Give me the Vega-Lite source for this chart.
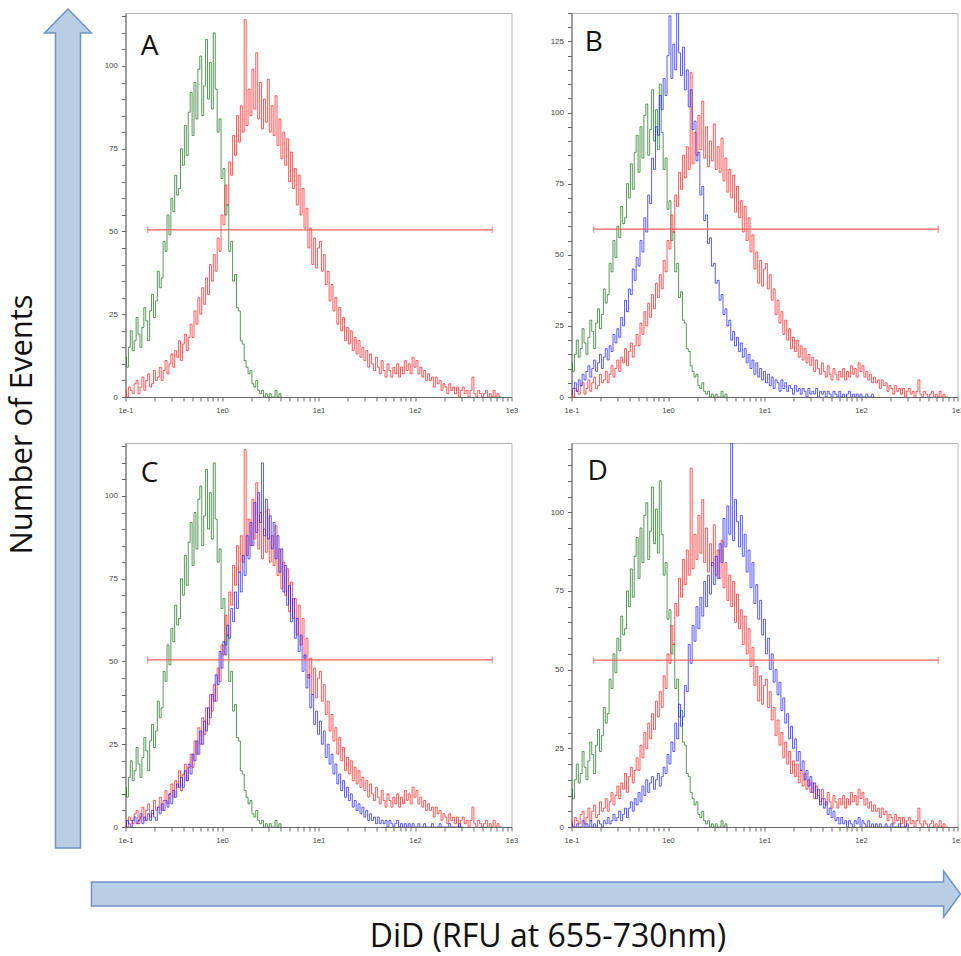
{
"$schema":"https://vega.github.io/schema/vega-lite/v6.json",
"padding":{"left":5.5,"top":5,"right":0,"bottom":0},
"bounds":"flush",
"spacing":856,
"config":{"view":{"stroke":null},"font":"Open Sans"},
"datasets":{
"arrowV":[{"y":0,"a":0.234,"b":0.766},{"y":0.976,"a":0.234,"b":0.766},{"y":0.9761,"a":0,"b":1},{"y":1.0048,"a":0.5,"b":0.5}],
"arrowH":[{"x":0.0513,"lo":0.26,"hi":0.74},{"x":0.9815,"lo":0.26,"hi":0.74},{"x":0.9816,"lo":0.04,"hi":0.96},{"x":1,"lo":0.5,"hi":0.5}],
"gate":[{"p":"A","x":-0.77,"x2":2.8,"v":50.5},{"p":"B","x":-0.77,"x2":2.8,"v":59},{"p":"C","x":-0.77,"x2":2.8,"v":50.5},{"p":"D","x":-0.77,"x2":2.8,"v":53}],
"lbl":[{"p":"A","x":-0.75,"v":105.7},{"p":"B","x":-0.77,"v":124.6},{"p":"C","x":-0.75,"v":106.7},{"p":"D","x":-0.73,"v":112.7}],
"h":[
{"x":-1,"g":12,"r":2,"b":1,"c":0,"d":1},
{"x":-0.98,"g":9,"r":0,"b":3,"c":2,"d":0},
{"x":-0.96,"g":15,"r":3,"b":5,"c":1,"d":0},
{"x":-0.94,"g":20,"r":2,"b":2,"c":0,"d":1},
{"x":-0.92,"g":14,"r":1,"b":6,"c":2,"d":0},
{"x":-0.9,"g":17,"r":4,"b":4,"c":3,"d":0},
{"x":-0.88,"g":24,"r":5,"b":8,"c":1,"d":2},
{"x":-0.86,"g":19,"r":1,"b":6,"c":2,"d":0},
{"x":-0.84,"g":15,"r":3,"b":9,"c":4,"d":1},
{"x":-0.82,"g":21,"r":6,"b":11,"c":1,"d":0},
{"x":-0.8,"g":27,"r":2,"b":7,"c":3,"d":2},
{"x":-0.78,"g":23,"r":5,"b":10,"c":2,"d":0},
{"x":-0.76,"g":17,"r":7,"b":13,"c":4,"d":1},
{"x":-0.74,"g":26,"r":3,"b":9,"c":2,"d":0},
{"x":-0.72,"g":31,"r":4,"b":12,"c":5,"d":2},
{"x":-0.7,"g":24,"r":8,"b":15,"c":3,"d":1},
{"x":-0.68,"g":29,"r":5,"b":10,"c":2,"d":0},
{"x":-0.66,"g":38,"r":6,"b":14,"c":6,"d":2},
{"x":-0.64,"g":33,"r":9,"b":17,"c":4,"d":1},
{"x":-0.62,"g":36,"r":5,"b":13,"c":7,"d":3},
{"x":-0.6,"g":47,"r":8,"b":18,"c":5,"d":1},
{"x":-0.58,"g":44,"r":11,"b":16,"c":8,"d":2},
{"x":-0.56,"g":55,"r":7,"b":22,"c":6,"d":4},
{"x":-0.54,"g":49,"r":10,"b":19,"c":10,"d":2},
{"x":-0.52,"g":60,"r":13,"b":24,"c":7,"d":3},
{"x":-0.5,"g":56,"r":9,"b":21,"c":11,"d":5},
{"x":-0.48,"g":67,"r":14,"b":28,"c":9,"d":2},
{"x":-0.46,"g":61,"r":12,"b":25,"c":13,"d":4},
{"x":-0.44,"g":63,"r":17,"b":34,"c":12,"d":6},
{"x":-0.42,"g":75,"r":11,"b":30,"c":15,"d":3},
{"x":-0.4,"g":70,"r":16,"b":38,"c":12,"d":6},
{"x":-0.38,"g":82,"r":19,"b":36,"c":17,"d":8},
{"x":-0.36,"g":73,"r":14,"b":45,"c":14,"d":5},
{"x":-0.34,"g":86,"r":18,"b":41,"c":19,"d":9},
{"x":-0.32,"g":92,"r":22,"b":49,"c":16,"d":7},
{"x":-0.3,"g":79,"r":18,"b":46,"c":22,"d":11},
{"x":-0.28,"g":95,"r":26,"b":55,"c":20,"d":8},
{"x":-0.26,"g":84,"r":22,"b":51,"c":26,"d":13},
{"x":-0.24,"g":99,"r":30,"b":63,"c":22,"d":10},
{"x":-0.22,"g":103,"r":25,"b":58,"c":29,"d":15},
{"x":-0.2,"g":85,"r":33,"b":71,"c":25,"d":11},
{"x":-0.18,"g":94,"r":28,"b":68,"c":32,"d":14},
{"x":-0.16,"g":108,"r":36,"b":84,"c":29,"d":16},
{"x":-0.14,"g":90,"r":31,"b":80,"c":36,"d":12},
{"x":-0.12,"g":101,"r":40,"b":95,"c":33,"d":15},
{"x":-0.1,"g":87,"r":35,"b":92,"c":40,"d":17},
{"x":-0.08,"g":110,"r":43,"b":106,"c":38,"d":13},
{"x":-0.06,"g":93,"r":38,"b":101,"c":46,"d":16},
{"x":-0.04,"g":80,"r":48,"b":112,"c":43,"d":19},
{"x":-0.02,"g":84,"r":44,"b":106,"c":53,"d":17},
{"x":0,"g":66,"r":55,"b":120,"c":48,"d":23},
{"x":0.02,"g":69,"r":52,"b":134,"c":56,"d":20},
{"x":0.04,"g":55,"r":64,"b":112,"c":52,"d":27},
{"x":0.06,"g":58,"r":58,"b":124,"c":61,"d":24},
{"x":0.08,"g":44,"r":71,"b":115,"c":57,"d":33},
{"x":0.1,"g":47,"r":67,"b":138,"c":66,"d":28},
{"x":0.12,"g":35,"r":79,"b":121,"c":62,"d":39},
{"x":0.14,"g":37,"r":73,"b":113,"c":71,"d":32},
{"x":0.16,"g":27,"r":85,"b":123,"c":66,"d":35},
{"x":0.18,"g":26,"r":77,"b":108,"c":77,"d":45},
{"x":0.2,"g":17,"r":88,"b":115,"c":71,"d":43},
{"x":0.22,"g":16,"r":80,"b":102,"c":82,"d":58},
{"x":0.24,"g":11,"r":114,"b":108,"c":76,"d":52},
{"x":0.26,"g":9,"r":82,"b":94,"c":88,"d":64},
{"x":0.28,"g":7,"r":93,"b":97,"c":81,"d":59},
{"x":0.3,"g":8,"r":85,"b":83,"c":92,"d":70},
{"x":0.32,"g":4,"r":99,"b":86,"c":85,"d":63},
{"x":0.34,"g":3,"r":87,"b":71,"c":98,"d":73},
{"x":0.36,"g":5,"r":104,"b":74,"c":89,"d":67},
{"x":0.38,"g":2,"r":84,"b":62,"c":101,"d":78},
{"x":0.4,"g":1,"r":95,"b":64,"c":92,"d":70},
{"x":0.42,"g":2,"r":81,"b":54,"c":110,"d":80},
{"x":0.44,"g":0,"r":90,"b":56,"c":88,"d":74},
{"x":0.46,"g":1,"r":83,"b":46,"c":99,"d":84},
{"x":0.48,"g":0,"r":96,"b":47,"c":87,"d":77},
{"x":0.5,"g":1,"r":80,"b":40,"c":94,"d":86},
{"x":0.52,"g":0,"r":88,"b":41,"c":84,"d":79},
{"x":0.54,"g":0,"r":79,"b":34,"c":92,"d":90},
{"x":0.56,"g":2,"r":91,"b":36,"c":81,"d":84},
{"x":0.58,"g":0,"r":76,"b":29,"c":88,"d":98},
{"x":0.6,"g":1,"r":84,"b":31,"c":77,"d":89},
{"x":0.62,"g":0,"r":72,"b":25,"c":84,"d":102},
{"x":0.64,"r":80,"b":27,"c":71,"d":93},
{"x":0.66,"r":70,"b":20,"c":79,"d":122},
{"x":0.68,"r":78,"b":23,"c":67,"d":91},
{"x":0.7,"r":65,"b":18,"c":73,"d":104},
{"x":0.72,"r":74,"b":21,"c":62,"d":97},
{"x":0.74,"r":63,"b":16,"c":69,"d":89},
{"x":0.76,"r":69,"b":19,"c":57,"d":99},
{"x":0.78,"r":58,"b":14,"c":63,"d":86},
{"x":0.8,"r":67,"b":17,"c":53,"d":93},
{"x":0.82,"r":55,"b":12,"c":58,"d":81},
{"x":0.84,"r":63,"b":15,"c":47,"d":88},
{"x":0.86,"r":51,"b":10,"c":52,"d":76},
{"x":0.88,"r":57,"b":13,"c":42,"d":84},
{"x":0.9,"r":45,"b":8,"c":46,"d":71},
{"x":0.92,"r":51,"b":12,"c":36,"d":77},
{"x":0.94,"r":40,"b":7,"c":40,"d":66},
{"x":0.96,"r":48,"b":10,"c":31,"d":72},
{"x":0.98,"r":39,"b":6,"c":35,"d":61},
{"x":1,"r":45,"b":9,"c":28,"d":66},
{"x":1.02,"r":47,"b":5,"c":32,"d":55},
{"x":1.04,"r":38,"b":8,"c":25,"d":60},
{"x":1.06,"r":43,"b":4,"c":29,"d":50},
{"x":1.08,"r":34,"b":7,"c":21,"d":55},
{"x":1.1,"r":38,"b":3,"c":25,"d":46},
{"x":1.12,"r":29,"b":6,"c":19,"d":50},
{"x":1.14,"r":34,"b":5,"c":22,"d":42},
{"x":1.16,"r":26,"b":2,"c":16,"d":46},
{"x":1.18,"r":30,"b":6,"c":19,"d":37},
{"x":1.2,"r":22,"b":3,"c":13,"d":41},
{"x":1.22,"r":27,"b":5,"c":16,"d":33},
{"x":1.24,"r":20,"b":2,"c":11,"d":36},
{"x":1.26,"r":24,"b":4,"c":14,"d":28},
{"x":1.28,"r":17,"b":3,"c":9,"d":32},
{"x":1.3,"r":21,"b":1,"c":12,"d":25},
{"x":1.32,"r":16,"b":4,"c":8,"d":28},
{"x":1.34,"r":20,"b":2,"c":10,"d":21},
{"x":1.36,"r":14,"b":3,"c":6,"d":24},
{"x":1.38,"r":18,"b":1,"c":8,"d":18},
{"x":1.4,"r":13,"b":3,"c":5,"d":21},
{"x":1.42,"r":17,"b":2,"c":7,"d":15},
{"x":1.44,"r":12,"b":0,"c":4,"d":18},
{"x":1.46,"r":15,"b":3,"c":6,"d":13},
{"x":1.48,"r":11,"b":1,"c":3,"d":16},
{"x":1.5,"r":14,"b":2,"c":5,"d":11},
{"x":1.52,"r":9,"b":1,"c":2,"d":14},
{"x":1.54,"r":13,"b":3,"c":4,"d":9},
{"x":1.56,"r":10,"b":0,"c":2,"d":12},
{"x":1.58,"r":8,"b":2,"c":3,"d":7},
{"x":1.6,"r":12,"b":1,"c":1,"d":9},
{"x":1.62,"r":9,"b":2,"c":3,"d":6},
{"x":1.64,"r":7,"b":0,"c":1,"d":8},
{"x":1.66,"r":11,"b":2,"c":2,"d":4},
{"x":1.68,"r":8,"b":1,"c":1,"d":6},
{"x":1.7,"r":6,"b":0,"c":2,"d":3},
{"x":1.72,"r":10,"b":2,"c":0,"d":5},
{"x":1.74,"r":8,"b":1,"c":2,"d":2},
{"x":1.76,"r":6,"b":0,"c":1,"d":3},
{"x":1.78,"r":9,"b":2,"c":0,"d":1},
{"x":1.8,"r":7,"b":0,"c":1,"d":3},
{"x":1.82,"r":10,"b":1,"c":2,"d":1},
{"x":1.84,"r":6,"b":0,"c":0,"d":2},
{"x":1.86,"r":9,"b":1,"c":1,"d":0},
{"x":1.88,"r":7,"b":2,"c":0,"d":2},
{"x":1.9,"r":11,"b":0,"c":1,"d":1},
{"x":1.92,"r":8,"b":1,"c":0,"d":0},
{"x":1.94,"r":10,"b":0,"c":1,"d":2},
{"x":1.96,"r":7,"b":1,"c":0,"d":1},
{"x":1.98,"r":12,"b":0,"c":1,"d":3},
{"x":2,"r":9,"b":1,"c":0,"d":0},
{"x":2.02,"r":11,"b":0,"c":0,"d":2},
{"x":2.04,"r":7,"b":0,"c":1,"d":1},
{"x":2.06,"r":9,"b":1,"c":0,"d":0},
{"x":2.08,"r":6,"b":0,"c":0,"d":2},
{"x":2.1,"r":8,"b":0,"c":1,"d":0},
{"x":2.12,"r":5,"b":1,"c":0,"d":1},
{"x":2.14,"r":7,"b":0,"c":0,"d":0},
{"x":2.16,"r":5,"c":0,"d":1},
{"x":2.18,"r":6,"c":1,"d":0},
{"x":2.2,"r":3,"c":0,"d":1},
{"x":2.22,"r":6,"c":0,"d":0},
{"x":2.24,"r":4,"c":0,"d":0},
{"x":2.26,"r":5,"c":1,"d":1},
{"x":2.28,"r":2,"c":0,"d":0},
{"x":2.3,"r":4,"c":0,"d":0},
{"x":2.32,"r":3,"c":0,"d":1},
{"x":2.34,"r":1,"c":0,"d":0},
{"x":2.36,"r":4,"c":1,"d":0},
{"x":2.38,"r":2,"c":0,"d":0},
{"x":2.4,"r":3,"c":0,"d":1},
{"x":2.42,"r":1,"c":0,"d":0},
{"x":2.44,"r":3,"c":0,"d":0},
{"x":2.46,"r":0,"c":1,"d":0},
{"x":2.48,"r":2,"c":0,"d":1},
{"x":2.5,"r":3,"c":0,"d":0},
{"x":2.52,"r":1},
{"x":2.54,"r":2},
{"x":2.56,"r":0},
{"x":2.58,"r":2},
{"x":2.6,"r":6},
{"x":2.62,"r":1},
{"x":2.64,"r":0},
{"x":2.66,"r":2},
{"x":2.68,"r":1},
{"x":2.7,"r":0},
{"x":2.72,"r":1},
{"x":2.74,"r":2},
{"x":2.76,"r":0},
{"x":2.78,"r":1},
{"x":2.8,"r":0},
{"x":2.82,"r":2},
{"x":2.84,"r":0},
{"x":2.86,"r":1},
{"x":2.88,"r":0},
{"x":2.9,"r":0}
]
},
"vconcat":[
{"bounds":"flush","spacing":34,"hconcat":[
{"width":47,"height":835,"data":{"name":"arrowV"},
 "mark":{"type":"area","orient":"horizontal","fill":"#b9cde5","stroke":"#7093c4","strokeWidth":1.5},
 "encoding":{
  "y":{"field":"y","type":"quantitative","scale":{"domain":[0,1],"nice":false,"zero":false},"axis":{"title":"Number of Events","labels":false,"ticks":false,"domain":false,"grid":false,"minExtent":0,"titleFont":"Open Sans","titleFontSize":31,"titleFontWeight":"normal","titleColor":"#111","titlePadding":6.5,"titleY":411}},
  "x":{"field":"a","type":"quantitative","scale":{"domain":[0,1],"nice":false,"zero":false},"axis":null},
  "x2":{"field":"b"}}},
{"bounds":"flush","spacing":430,"vconcat":[
 {"bounds":"flush","spacing":60,"hconcat":[
  {"width":386,"height":384,"view":{"stroke":"#b4b4b4"},
   "encoding":{
    "x":{"field":"x","type":"quantitative","scale":{"domain":[-1,3],"nice":false,"zero":false},"axis":{"title":null,"grid":false,"values":[-1,-0.69897,-0.52288,-0.39794,-0.30103,-0.22185,-0.1549,-0.09691,-0.04576,0,0.30103,0.47712,0.60206,0.69897,0.77815,0.8451,0.90309,0.95424,1,1.30103,1.47712,1.60206,1.69897,1.77815,1.8451,1.90309,1.95424,2,2.30103,2.47712,2.60206,2.69897,2.77815,2.8451,2.90309,2.95424,3],"labelExpr":"datum.value==-1?'1e-1':datum.value==0?'1e0':datum.value==1?'1e1':datum.value==2?'1e2':datum.value==3?'1e3':''","tickSize":4,"tickColor":"#666","domainColor":"#666","labelFont":"Liberation Sans","labelFontSize":7.5,"labelColor":"#444","labelPadding":5,"labelFlush":false,"labelOverlap":false}},
    "y":{"field":"v","type":"quantitative","scale":{"domain":[0,116],"nice":false,"zero":false},"axis":{"title":null,"grid":false,"minExtent":0,"values":[0,5,10,15,20,25,30,35,40,45,50,55,60,65,70,75,80,85,90,95,100,105,110,115],"labelExpr":"datum.value % 25 === 0 ? datum.label : ''","tickSize":4,"tickColor":"#666","domainColor":"#666","labelFont":"Liberation Sans","labelFontSize":8,"labelColor":"#444","labelPadding":4,"labelOverlap":false}}},
   "layer":[
   {"data":{"name":"h"},"transform":[{"fold":["g","r"],"as":["s","v"]},{"filter":"isValid(datum.v)"}],
    "mark":{"type":"line","interpolate":"step","strokeWidth":0.95,"opacity":0.75,"clip":true},
    "encoding":{"color":{"field":"s","type":"nominal","scale":{"domain":["g","r","b","c","d"],"range":["#157015","#ff1a1a","#1a1aff","#1a1aff","#1a1aff"]},"legend":null}}},
   {"data":{"name":"gate"},"transform":[{"filter":"datum.p=='A'"}],"mark":{"type":"rule","color":"#ff5c5c","strokeWidth":1.2},"encoding":{"x2":{"field":"x2"}}},
   {"data":{"name":"gate"},"transform":[{"filter":"datum.p=='A'"},{"fold":["x","x2"],"as":["e","x"]}],"mark":{"type":"tick","orient":"vertical","color":"#ff5c5c","size":7,"thickness":1.2}},
   {"data":{"name":"lbl"},"transform":[{"filter":"datum.p=='A'"}],"mark":{"type":"text","font":"Open Sans","fontSize":28,"color":"#111","align":"center","baseline":"middle"},"encoding":{"text":{"field":"p"}}}
  ]},
  {"width":386,"height":384,"view":{"stroke":"#b4b4b4"},
   "encoding":{
    "x":{"field":"x","type":"quantitative","scale":{"domain":[-1,3],"nice":false,"zero":false},"axis":{"title":null,"grid":false,"values":[-1,-0.69897,-0.52288,-0.39794,-0.30103,-0.22185,-0.1549,-0.09691,-0.04576,0,0.30103,0.47712,0.60206,0.69897,0.77815,0.8451,0.90309,0.95424,1,1.30103,1.47712,1.60206,1.69897,1.77815,1.8451,1.90309,1.95424,2,2.30103,2.47712,2.60206,2.69897,2.77815,2.8451,2.90309,2.95424,3],"labelExpr":"datum.value==-1?'1e-1':datum.value==0?'1e0':datum.value==1?'1e1':datum.value==2?'1e2':datum.value==3?'1e3':''","tickSize":4,"tickColor":"#666","domainColor":"#666","labelFont":"Liberation Sans","labelFontSize":7.5,"labelColor":"#444","labelPadding":5,"labelFlush":false,"labelOverlap":false}},
    "y":{"field":"v","type":"quantitative","scale":{"domain":[0,135],"nice":false,"zero":false},"axis":{"title":null,"grid":false,"minExtent":0,"values":[0,5,10,15,20,25,30,35,40,45,50,55,60,65,70,75,80,85,90,95,100,105,110,115,120,125,130,135],"labelExpr":"datum.value % 25 === 0 ? datum.label : ''","tickSize":4,"tickColor":"#666","domainColor":"#666","labelFont":"Liberation Sans","labelFontSize":8,"labelColor":"#444","labelPadding":4,"labelOverlap":false}}},
   "layer":[
   {"data":{"name":"h"},"transform":[{"fold":["g","r","b"],"as":["s","v"]},{"filter":"isValid(datum.v)"}],
    "mark":{"type":"line","interpolate":"step","strokeWidth":0.95,"opacity":0.75,"clip":true},
    "encoding":{"color":{"field":"s","type":"nominal","scale":{"domain":["g","r","b","c","d"],"range":["#157015","#ff1a1a","#1a1aff","#1a1aff","#1a1aff"]},"legend":null}}},
   {"data":{"name":"gate"},"transform":[{"filter":"datum.p=='B'"}],"mark":{"type":"rule","color":"#ff5c5c","strokeWidth":1.2},"encoding":{"x2":{"field":"x2"}}},
   {"data":{"name":"gate"},"transform":[{"filter":"datum.p=='B'"},{"fold":["x","x2"],"as":["e","x"]}],"mark":{"type":"tick","orient":"vertical","color":"#ff5c5c","size":7,"thickness":1.2}},
   {"data":{"name":"lbl"},"transform":[{"filter":"datum.p=='B'"}],"mark":{"type":"text","font":"Open Sans","fontSize":28,"color":"#111","align":"center","baseline":"middle"},"encoding":{"text":{"field":"p"}}}
  ]}
 ]},
 {"bounds":"flush","spacing":60,"hconcat":[
  {"width":386,"height":384,"view":{"stroke":"#b4b4b4"},
   "encoding":{
    "x":{"field":"x","type":"quantitative","scale":{"domain":[-1,3],"nice":false,"zero":false},"axis":{"title":null,"grid":false,"values":[-1,-0.69897,-0.52288,-0.39794,-0.30103,-0.22185,-0.1549,-0.09691,-0.04576,0,0.30103,0.47712,0.60206,0.69897,0.77815,0.8451,0.90309,0.95424,1,1.30103,1.47712,1.60206,1.69897,1.77815,1.8451,1.90309,1.95424,2,2.30103,2.47712,2.60206,2.69897,2.77815,2.8451,2.90309,2.95424,3],"labelExpr":"datum.value==-1?'1e-1':datum.value==0?'1e0':datum.value==1?'1e1':datum.value==2?'1e2':datum.value==3?'1e3':''","tickSize":4,"tickColor":"#666","domainColor":"#666","labelFont":"Liberation Sans","labelFontSize":7.5,"labelColor":"#444","labelPadding":5,"labelFlush":false,"labelOverlap":false}},
    "y":{"field":"v","type":"quantitative","scale":{"domain":[0,116],"nice":false,"zero":false},"axis":{"title":null,"grid":false,"minExtent":0,"values":[0,5,10,15,20,25,30,35,40,45,50,55,60,65,70,75,80,85,90,95,100,105,110,115],"labelExpr":"datum.value % 25 === 0 ? datum.label : ''","tickSize":4,"tickColor":"#666","domainColor":"#666","labelFont":"Liberation Sans","labelFontSize":8,"labelColor":"#444","labelPadding":4,"labelOverlap":false}}},
   "layer":[
   {"data":{"name":"h"},"transform":[{"fold":["g","r","c"],"as":["s","v"]},{"filter":"isValid(datum.v)"}],
    "mark":{"type":"line","interpolate":"step","strokeWidth":0.95,"opacity":0.75,"clip":true},
    "encoding":{"color":{"field":"s","type":"nominal","scale":{"domain":["g","r","b","c","d"],"range":["#157015","#ff1a1a","#1a1aff","#1a1aff","#1a1aff"]},"legend":null}}},
   {"data":{"name":"gate"},"transform":[{"filter":"datum.p=='C'"}],"mark":{"type":"rule","color":"#ff5c5c","strokeWidth":1.2},"encoding":{"x2":{"field":"x2"}}},
   {"data":{"name":"gate"},"transform":[{"filter":"datum.p=='C'"},{"fold":["x","x2"],"as":["e","x"]}],"mark":{"type":"tick","orient":"vertical","color":"#ff5c5c","size":7,"thickness":1.2}},
   {"data":{"name":"lbl"},"transform":[{"filter":"datum.p=='C'"}],"mark":{"type":"text","font":"Open Sans","fontSize":28,"color":"#111","align":"center","baseline":"middle"},"encoding":{"text":{"field":"p"}}}
  ]},
  {"width":386,"height":384,"view":{"stroke":"#b4b4b4"},
   "encoding":{
    "x":{"field":"x","type":"quantitative","scale":{"domain":[-1,3],"nice":false,"zero":false},"axis":{"title":null,"grid":false,"values":[-1,-0.69897,-0.52288,-0.39794,-0.30103,-0.22185,-0.1549,-0.09691,-0.04576,0,0.30103,0.47712,0.60206,0.69897,0.77815,0.8451,0.90309,0.95424,1,1.30103,1.47712,1.60206,1.69897,1.77815,1.8451,1.90309,1.95424,2,2.30103,2.47712,2.60206,2.69897,2.77815,2.8451,2.90309,2.95424,3],"labelExpr":"datum.value==-1?'1e-1':datum.value==0?'1e0':datum.value==1?'1e1':datum.value==2?'1e2':datum.value==3?'1e3':''","tickSize":4,"tickColor":"#666","domainColor":"#666","labelFont":"Liberation Sans","labelFontSize":7.5,"labelColor":"#444","labelPadding":5,"labelFlush":false,"labelOverlap":false}},
    "y":{"field":"v","type":"quantitative","scale":{"domain":[0,122],"nice":false,"zero":false},"axis":{"title":null,"grid":false,"minExtent":0,"values":[0,5,10,15,20,25,30,35,40,45,50,55,60,65,70,75,80,85,90,95,100,105,110,115,120],"labelExpr":"datum.value % 25 === 0 ? datum.label : ''","tickSize":4,"tickColor":"#666","domainColor":"#666","labelFont":"Liberation Sans","labelFontSize":8,"labelColor":"#444","labelPadding":4,"labelOverlap":false}}},
   "layer":[
   {"data":{"name":"h"},"transform":[{"fold":["g","r","d"],"as":["s","v"]},{"filter":"isValid(datum.v)"}],
    "mark":{"type":"line","interpolate":"step","strokeWidth":0.95,"opacity":0.75,"clip":true},
    "encoding":{"color":{"field":"s","type":"nominal","scale":{"domain":["g","r","b","c","d"],"range":["#157015","#ff1a1a","#1a1aff","#1a1aff","#1a1aff"]},"legend":null}}},
   {"data":{"name":"gate"},"transform":[{"filter":"datum.p=='D'"}],"mark":{"type":"rule","color":"#ff5c5c","strokeWidth":1.2},"encoding":{"x2":{"field":"x2"}}},
   {"data":{"name":"gate"},"transform":[{"filter":"datum.p=='D'"},{"fold":["x","x2"],"as":["e","x"]}],"mark":{"type":"tick","orient":"vertical","color":"#ff5c5c","size":7,"thickness":1.2}},
   {"data":{"name":"lbl"},"transform":[{"filter":"datum.p=='D'"}],"mark":{"type":"text","font":"Open Sans","fontSize":28,"color":"#111","align":"center","baseline":"middle"},"encoding":{"text":{"field":"p"}}}
  ]}
 ]}
]}
]},
{"width":916,"height":50,"data":{"name":"arrowH"},
 "mark":{"type":"area","orient":"vertical","fill":"#b9cde5","stroke":"#7093c4","strokeWidth":1.5},
 "encoding":{
  "x":{"field":"x","type":"quantitative","scale":{"domain":[0,1],"nice":false,"zero":false},"axis":{"title":"DiD (RFU at 655-730nm)","labels":false,"ticks":false,"domain":false,"grid":false,"titleFont":"Open Sans","titleFontSize":32,"titleFontWeight":"normal","titleColor":"#111","titleBaseline":"alphabetic","titlePadding":27,"titleX":503}},
  "y":{"field":"lo","type":"quantitative","scale":{"domain":[0,1],"nice":false,"zero":false},"axis":null},
  "y2":{"field":"hi"}}}
]
}
